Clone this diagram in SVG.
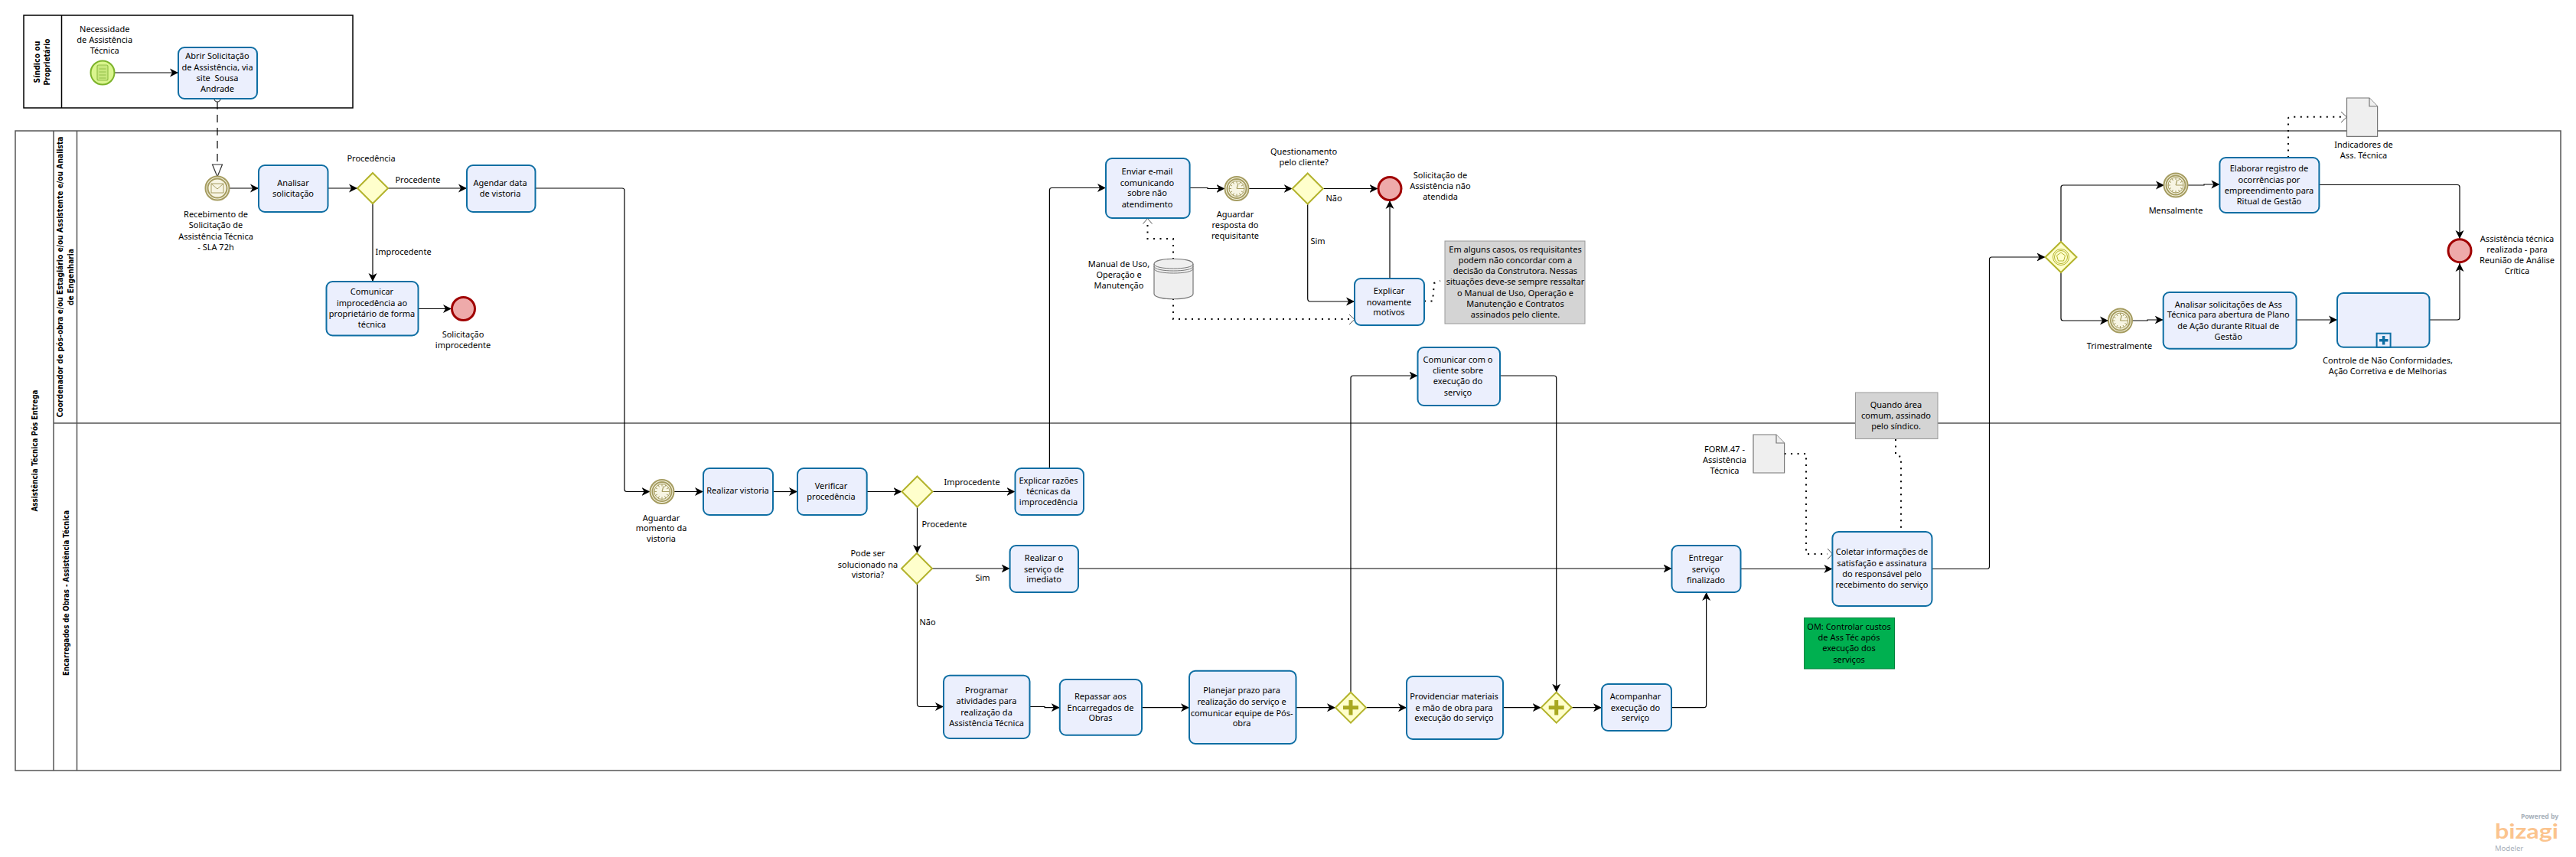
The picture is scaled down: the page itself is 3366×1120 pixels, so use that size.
<svg xmlns="http://www.w3.org/2000/svg" xmlns:xlink="http://www.w3.org/1999/xlink" width="3366" height="1120" viewBox="0 0 3366 1120">
<style>
text{font-family:"Noto Sans","DejaVu Sans",sans-serif;font-size:11px;fill:#000;text-anchor:middle}
.h{font-family:"DejaVu Sans",sans-serif;font-weight:bold;font-size:10px}
.task{fill:#ebeffd;stroke:#0e6ea3;stroke-width:2}
.gw{fill:#ffffcc;stroke:#b3b32c;stroke-width:2}
.ev{fill:#f7f5e3;stroke:#a59c60;stroke-width:2}
.end{fill:#eeaaaa;stroke:#a00000;stroke-width:3}
.art{fill:#efefef;stroke:#777;stroke-width:1.2}
.note{fill:#d4d4d4;stroke:#999;stroke-width:1}
.f{fill:none;stroke:#000;stroke-width:1.2;marker-end:url(#a)}
.d{fill:none;stroke:#000;stroke-width:2;stroke-dasharray:2 6.5}
.lane{fill:none;stroke:#555;stroke-width:1.5}
.pool{fill:none;stroke:#000;stroke-width:1.5}
.ic{fill:none;stroke:#a59c60;stroke-width:1}
</style>
<defs>
<marker id="a" markerUnits="userSpaceOnUse" markerWidth="12" markerHeight="12" refX="11" refY="6" orient="auto"><path d="M0,0.5L11,6L0,11.5L3,6Z" fill="#000"/></marker>
<g id="timer"><circle class="ev" r="15.5"/><circle class="ev" r="12.5"/><circle class="ic" r="10"/><path class="ic" d="M0,-10V-7M0,10V7M-10,0H-7M10,0H7M-5,-8.7L-3.5,-6M5,-8.7L3.5,-6M-5,8.7L-3.5,6M5,8.7L3.5,6M-8.7,-5L-6,-3.5M8.7,-5L6,-3.5M-8.7,5L-6,3.5M8.7,5L6,3.5"/><path d="M0,0L2,-7M0,0H7" fill="none" stroke="#a59c60" stroke-width="1.2"/></g>
</defs>

<g id="lanes">
<g id="pool-sindico"><rect class="pool" x="31" y="20" width="430" height="121"/><path class="pool" d="M80.500,20V141"/>
<text class="h" transform="translate(48,81) rotate(-90)" y="4" textLength="55" lengthAdjust="spacingAndGlyphs">Síndico ou</text><text class="h" transform="translate(61,81) rotate(-90)" y="4" textLength="61" lengthAdjust="spacingAndGlyphs">Proprietário</text></g>
<g id="pool-main"><rect class="lane" x="20" y="171" width="3326" height="836"/><path class="lane" d="M70,171V1007M100.500,171V1007M70,553H3346"/>
<text class="h" transform="translate(45,589) rotate(-90)" y="4" textLength="159" lengthAdjust="spacingAndGlyphs">Assistência Técnica Pós Entrega</text>
<text class="h" transform="translate(78,362) rotate(-90)" y="4" textLength="367" lengthAdjust="spacingAndGlyphs">Coordenador de pós-obra e/ou Estagiário e/ou Assistente e/ou Analista</text>
<text class="h" transform="translate(91.500,362) rotate(-90)" y="4" textLength="74" lengthAdjust="spacingAndGlyphs">de Engenharia</text>
<text class="h" transform="translate(85.500,775) rotate(-90)" y="4" textLength="216" lengthAdjust="spacingAndGlyphs">Encarregados de Obras - Assistência Técnica</text></g>
</g>

<g id="connectors">
<path class="f" d="M149.500,95H233"/>
<path d="M284,133V215" fill="none" stroke="#000" stroke-width="1.2" stroke-dasharray="10 7"/>
<circle cx="284" cy="129" r="4" fill="#fff" stroke="#333" stroke-width="1.2"/>
<path d="M277.500,215H290.500L284,231Z" fill="#fff" stroke="#333" stroke-width="1.2"/>
<path class="f" d="M299.500,246H338"/>
<path class="f" d="M428.500,246H467"/>
<path class="f" d="M507,246H610"/>
<path class="f" d="M487,266V368"/>
<path class="f" d="M546.500,403.500H590"/>
<path class="f" d="M699.500,246H813Q816,246 816,249V639.500Q816,642.500 819,642.500H849.500"/>
<path class="f" d="M880.500,642.500H919"/>
<path class="f" d="M1010,642.500H1042"/>
<path class="f" d="M1132.700,642.500H1178.500"/>
<path class="f" d="M1218.500,642.500H1326.500"/>
<path class="f" d="M1198.500,662.500V723"/>
<path class="f" d="M1371.400,612V248.500Q1371.400,245.500 1374.400,245.500H1445"/>
<path class="f" d="M1554.600,245.500H1578V246.500H1600.500"/>
<path class="f" d="M1631.500,246.500H1688.700"/>
<path class="f" d="M1728.700,246.500H1800.500"/>
<path class="f" d="M1708.700,266.500V390Q1708.700,394 1712,394H1770"/>
<path class="f" d="M1816,364V262"/>
<path class="f" d="M1218,743H1319.600"/>
<path class="f" d="M1409,743H2184.500"/>
<path class="f" d="M1198.500,763V920Q1198.500,923.500 1202,923.500H1233"/>
<path class="f" d="M1345.500,923.500H1365V924.700H1384.800"/>
<path class="f" d="M1492,924.700H1554"/>
<path class="f" d="M1693.500,924.700H1745"/>
<path class="f" d="M1785,924.700H1838"/>
<path class="f" d="M1964,924.700H2013.700"/>
<path class="f" d="M2053.700,924.700H2093"/>
<path class="f" d="M1765,904.700V494Q1765,491 1768,491H1852.500"/>
<path class="f" d="M1960,491H2030.700Q2033.700,491 2033.700,494V904.700"/>
<path class="f" d="M2184,924.700H2226.500Q2229.600,924.700 2229.600,921V774"/>
<path class="f" d="M2274.500,743.500H2394.400"/>
<path class="f" d="M2524.500,743.500H2596.500Q2599.500,743.500 2599.500,740V339Q2599.500,336 2602.500,336H2672.500"/>
<path class="f" d="M2693,316V245Q2693,242 2696,242H2828"/>
<path class="f" d="M2858.500,242H2880V241H2900.400"/>
<path class="f" d="M3030.400,241.500H3211Q3214,241.500 3214,244.500V312"/>
<path class="f" d="M2693,356V416Q2693,419 2696,419H2755"/>
<path class="f" d="M2786,419H2806V418H2826.700"/>
<path class="f" d="M3000.600,418H3054"/>
<path class="f" d="M3174.500,418H3211Q3214,418 3214,415V344"/>
<path class="d" d="M1533,339V312H1499.500V292"/><path d="M1493.500,292.500L1499.500,285.500L1505.500,292.500" fill="none" stroke="#555"/>
<path class="d" d="M1533,390V417H1763"/><path d="M1763,411L1770,417.500L1763,424" fill="none" stroke="#555"/>
<path class="d" d="M1861,393.500H1872L1874,370L1882,367"/>
<path class="d" d="M2331.600,593H2360V724H2388"/><path d="M2388,717L2394.400,724L2388,731" fill="none" stroke="#555"/>
<path class="d" d="M2477,574V595L2484,597V695"/>
<path class="d" d="M2990,206V155Q2990,152.700 2993,152.700H3059"/><path d="M3059,146L3066.500,153L3059,160" fill="none" stroke="#555"/>
</g>

<g id="n-start"><circle cx="134" cy="95" r="15.500" fill="#daf58e" stroke="#7cb32a" stroke-width="2"/><rect x="127" y="85" width="14" height="20" rx="2" fill="#c7e77c" stroke="#94c04a" stroke-width="1.2"/><path d="M129.500,90H138.500M129.500,94H138.500M129.500,98H138.500M129.500,102H138.500" stroke="#94c04a" stroke-width="1"/><text x="136.700" y="42">Necessidade</text><text x="136.700" y="56">de Assistência</text><text x="136.700" y="70">Técnica</text></g>
<g id="n-abrir"><rect class="task" x="233" y="62" width="103" height="67" rx="8"/><text x="284" y="77">Abrir Solicitação</text><text x="284" y="92">de Assistência, via</text><text x="284" y="106" style="white-space:pre">site  Sousa</text><text x="284" y="120">Andrade</text></g>
<g id="n-receb"><circle class="ev" cx="284" cy="246" r="15.500"/><circle class="ev" cx="284" cy="246" r="12.500"/><path class="ic" d="M276,240H292V252H276ZM276,240L284,247L292,240"/><text x="282" y="284">Recebimento de</text><text x="282" y="298">Solicitação de</text><text x="282" y="312.500">Assistência Técnica</text><text x="282" y="326.500">- SLA 72h</text></g>
<g id="n-analisar"><rect class="task" x="338" y="216" width="90.500" height="61" rx="8"/><text x="383" y="243">Analisar</text><text x="383" y="257">solicitação</text></g>
<g id="n-gw1"><path class="gw" d="M487,226L507,246L487,266L467,246Z"/><text x="485" y="211">Procedência</text><text x="546" y="239">Procedente</text><text x="527" y="333">Improcedente</text></g>
<g id="n-agendar"><rect class="task" x="610" y="216" width="89.500" height="61" rx="8"/><text x="653.500" y="243">Agendar data</text><text x="653.500" y="257">de vistoria</text></g>
<g id="n-comunicar"><rect class="task" x="426.500" y="368" width="120" height="70.500" rx="8"/><text x="486" y="385">Comunicar</text><text x="486" y="400">improcedência ao</text><text x="486" y="414">proprietário de forma</text><text x="486" y="428">técnica</text></g>
<g id="n-end1"><circle class="end" cx="605.500" cy="403.500" r="15"/><text x="605" y="441">Solicitação</text><text x="605" y="455">improcedente</text></g>
<g id="n-aguardar"><use xlink:href="#timer" href="#timer" x="865" y="642.500"/><text x="864" y="680.500">Aguardar</text><text x="864" y="694">momento da</text><text x="864" y="708">vistoria</text></g>
<g id="n-realizar"><rect class="task" x="919" y="612" width="91" height="61" rx="8"/><text x="964" y="645">Realizar vistoria</text></g>
<g id="n-verificar"><rect class="task" x="1042" y="612" width="90.700" height="61" rx="8"/><text x="1086" y="639">Verificar</text><text x="1086" y="653">procedência</text></g>
<g id="n-gw2"><path class="gw" d="M1198.500,622.500L1218.500,642.500L1198.500,662.500L1178.500,642.500Z"/><text x="1270" y="634">Improcedente</text><text x="1234" y="689">Procedente</text></g>
<g id="n-explicar"><rect class="task" x="1326.500" y="612" width="89.500" height="61" rx="8"/><text x="1370" y="632">Explicar razões</text><text x="1370" y="646">técnicas da</text><text x="1370" y="660">improcedência</text></g>
<g id="n-enviar"><rect class="task" x="1445" y="207" width="109.600" height="78" rx="8"/><text x="1499" y="228">Enviar e-mail</text><text x="1499" y="242.500">comunicando</text><text x="1499" y="256">sobre não</text><text x="1499" y="271">atendimento</text></g>
<g id="n-store"><path class="art" d="M1508,345C1508,336 1559,336 1559,345V384C1559,393 1508,393 1508,384Z"/><path d="M1508,345C1508,353 1559,353 1559,345M1508,348C1508,356 1559,356 1559,348M1508,351C1508,359 1559,359 1559,351" fill="none" stroke="#777"/><text x="1462" y="349">Manual de Uso,</text><text x="1462" y="363">Operação e</text><text x="1462" y="377">Manutenção</text></g>
<g id="n-aguardar2"><use xlink:href="#timer" href="#timer" x="1616" y="246.500"/><text x="1614" y="284">Aguardar</text><text x="1614" y="298">resposta do</text><text x="1614" y="312">requisitante</text></g>
<g id="n-gw3"><path class="gw" d="M1708.700,226.500L1728.700,246.500L1708.700,266.500L1688.700,246.500Z"/><text x="1703.600" y="202">Questionamento</text><text x="1703.600" y="216">pelo cliente?</text><text x="1743" y="263">Não</text><text x="1722" y="319">Sim</text></g>
<g id="n-end2"><circle class="end" cx="1816" cy="246.500" r="15"/><text x="1882" y="233">Solicitação de</text><text x="1882" y="247">Assistência não</text><text x="1882" y="261">atendida</text></g>
<g id="n-novamente"><rect class="task" x="1770" y="364" width="91" height="61" rx="8"/><text x="1815" y="384">Explicar</text><text x="1815" y="398.500">novamente</text><text x="1815" y="412">motivos</text></g>
<g id="n-note1"><rect class="note" x="1888" y="315" width="183" height="108"/><text x="1980" y="330">Em alguns casos, os requisitantes</text><text x="1980" y="344">podem não concordar com a</text><text x="1980" y="358">decisão da Construtora. Nessas</text><text x="1980" y="372">situações deve-se sempre ressaltar</text><text x="1980" y="386.500">o Manual de Uso, Operação e</text><text x="1980" y="401">Manutenção e Contratos</text><text x="1980" y="415">assinados pelo cliente.</text></g>
<g id="n-comcliente"><rect class="task" x="1852.500" y="454" width="107.500" height="76" rx="8"/><text x="1905" y="474">Comunicar com o</text><text x="1905" y="488">cliente sobre</text><text x="1905" y="502">execução do</text><text x="1905" y="517">serviço</text></g>
<g id="n-gw4"><path class="gw" d="M1198,723L1218,743L1198,763L1178,743Z"/><text x="1134" y="727">Pode ser</text><text x="1134" y="741.500">solucionado na</text><text x="1134" y="755">vistoria?</text><text x="1284" y="759">Sim</text><text x="1212" y="817">Não</text></g>
<g id="n-imediato"><rect class="task" x="1319.600" y="713" width="89.400" height="61" rx="8"/><text x="1364" y="733">Realizar o</text><text x="1364" y="747.500">serviço de</text><text x="1364" y="761">imediato</text></g>
<g id="n-programar"><rect class="task" x="1233" y="882.700" width="112.500" height="82.300" rx="8"/><text x="1289" y="906">Programar</text><text x="1289" y="920">atividades para</text><text x="1289" y="934.500">realização da</text><text x="1289" y="949">Assistência Técnica</text></g>
<g id="n-repassar"><rect class="task" x="1384.800" y="888" width="107.200" height="72.700" rx="8"/><text x="1438" y="914">Repassar aos</text><text x="1438" y="928.500">Encarregados de</text><text x="1438" y="942">Obras</text></g>
<g id="n-planejar"><rect class="task" x="1554" y="876.700" width="139.500" height="95.300" rx="8"/><text x="1622.600" y="906">Planejar prazo para</text><text x="1622.600" y="921">realização do serviço e</text><text x="1622.600" y="935.500">comunicar equipe de Pós-</text><text x="1622.600" y="949">obra</text></g>
<g id="n-gw5"><path class="gw" d="M1765,904.700L1785,924.700L1765,944.700L1745,924.700Z"/><path d="M1765,915V934.500M1755,924.700H1775" stroke="#a8a820" stroke-width="5"/></g>
<g id="n-providenciar"><rect class="task" x="1838" y="884" width="126" height="82" rx="8"/><text x="1900" y="914">Providenciar materiais</text><text x="1900" y="928.500">e mão de obra para</text><text x="1900" y="942">execução do serviço</text></g>
<g id="n-gw6"><path class="gw" d="M2033.700,904.700L2053.700,924.700L2033.700,944.700L2013.700,924.700Z"/><path d="M2033.700,915V934.500M2023.700,924.700H2043.700" stroke="#a8a820" stroke-width="5"/></g>
<g id="n-acompanhar"><rect class="task" x="2093" y="894" width="91" height="61" rx="8"/><text x="2137" y="914">Acompanhar</text><text x="2137" y="928.500">execução do</text><text x="2137" y="942">serviço</text></g>
<g id="n-entregar"><rect class="task" x="2184.500" y="713" width="90" height="61" rx="8"/><text x="2229" y="733">Entregar</text><text x="2229" y="747.500">serviço</text><text x="2229" y="761.500">finalizado</text></g>
<g id="n-form"><path class="art" d="M2291,568H2321L2331.600,579V618H2291Z"/><path class="art" d="M2321,568V579H2331.600"/><text x="2253.500" y="591">FORM.47 -</text><text x="2253.500" y="605">Assistência</text><text x="2253.500" y="619">Técnica</text></g>
<g id="n-note2"><rect class="note" x="2424.500" y="513" width="107.500" height="60.500"/><text x="2477.500" y="533">Quando área</text><text x="2477.500" y="547">comum, assinado</text><text x="2477.500" y="561">pelo síndico.</text></g>
<g id="n-coletar"><rect class="task" x="2394.400" y="695" width="130.100" height="97" rx="8"/><text x="2459" y="725">Coletar informações de</text><text x="2459" y="740">satisfação e assinatura</text><text x="2459" y="754">do responsável pelo</text><text x="2459" y="768">recebimento do serviço</text></g>
<g id="n-om"><rect x="2357.600" y="807.500" width="117.900" height="66.500" fill="#00b050" stroke="#00803a"/><text x="2416" y="823">OM: Controlar custos</text><text x="2416" y="837">de Ass Téc após</text><text x="2416" y="851">execução dos</text><text x="2416" y="866">serviços</text></g>
<g id="n-gw7"><path class="gw" d="M2693,316L2713.500,336L2693,356L2672.500,336Z"/><circle cx="2693" cy="336" r="10.500" fill="none" stroke="#b3b32c"/><circle cx="2693" cy="336" r="8.500" fill="none" stroke="#b3b32c"/><path d="M2693,330L2698.500,334L2696.500,341H2689.500L2687.500,334Z" fill="none" stroke="#b3b32c"/></g>
<g id="n-mensal"><use xlink:href="#timer" href="#timer" x="2843" y="242"/><text x="2843" y="279">Mensalmente</text></g>
<g id="n-elaborar"><rect class="task" x="2900.400" y="206" width="130" height="72" rx="8"/><text x="2965" y="224">Elaborar registro de</text><text x="2965" y="238.500">ocorrências por</text><text x="2965" y="252.500">empreendimento para</text><text x="2965" y="267">Ritual de Gestão</text></g>
<g id="n-indic"><path class="art" d="M3066.500,128H3096L3106.600,139V178.300H3066.500Z"/><path class="art" d="M3096,128V139H3106.600"/><text x="3088.500" y="193">Indicadores de</text><text x="3088.500" y="207">Ass. Técnica</text></g>
<g id="n-end3"><circle class="end" cx="3214" cy="327.700" r="15"/><text x="3289" y="316">Assistência técnica</text><text x="3289" y="330">realizada - para</text><text x="3289" y="344">Reunião de Análise</text><text x="3289" y="358">Crítica</text></g>
<g id="n-trimestral"><use xlink:href="#timer" href="#timer" x="2770.500" y="419"/><text x="2769.500" y="456">Trimestralmente</text></g>
<g id="n-analisar2"><rect class="task" x="2826.700" y="382" width="173.900" height="73.700" rx="8"/><text x="2911.700" y="401.500">Analisar solicitações de Ass</text><text x="2911.700" y="415">Técnica para abertura de Plano</text><text x="2911.700" y="429.500">de Ação durante Ritual de</text><text x="2911.700" y="444">Gestão</text></g>
<g id="n-sub"><rect class="task" x="3054" y="383" width="120.500" height="70.700" rx="8"/><rect x="3105.600" y="435.700" width="18" height="18" fill="#ebeffd" stroke="#0e6ea3" stroke-width="2"/><path d="M3114.600,439V450.500M3109,444.700H3120.500" stroke="#0e6ea3" stroke-width="3.500"/><text x="3120" y="475">Controle de Não Conformidades,</text><text x="3120" y="489">Ação Corretiva e de Melhorias</text></g>

<g id="logo"><text x="3343" y="1070" style="text-anchor:end;font:bold 8.500px 'Noto Sans',sans-serif;fill:#a7b0ba">Powered by</text>
<text x="3260" y="1096" textLength="83" lengthAdjust="spacingAndGlyphs" style="text-anchor:start;font:bold 27px 'Lato',sans-serif;fill:#fbc48e">bizagi</text>
<text x="3260" y="1112" style="text-anchor:start;font:9.500px 'Noto Sans',sans-serif;fill:#a7b0ba">Modeler</text></g>
</svg>
